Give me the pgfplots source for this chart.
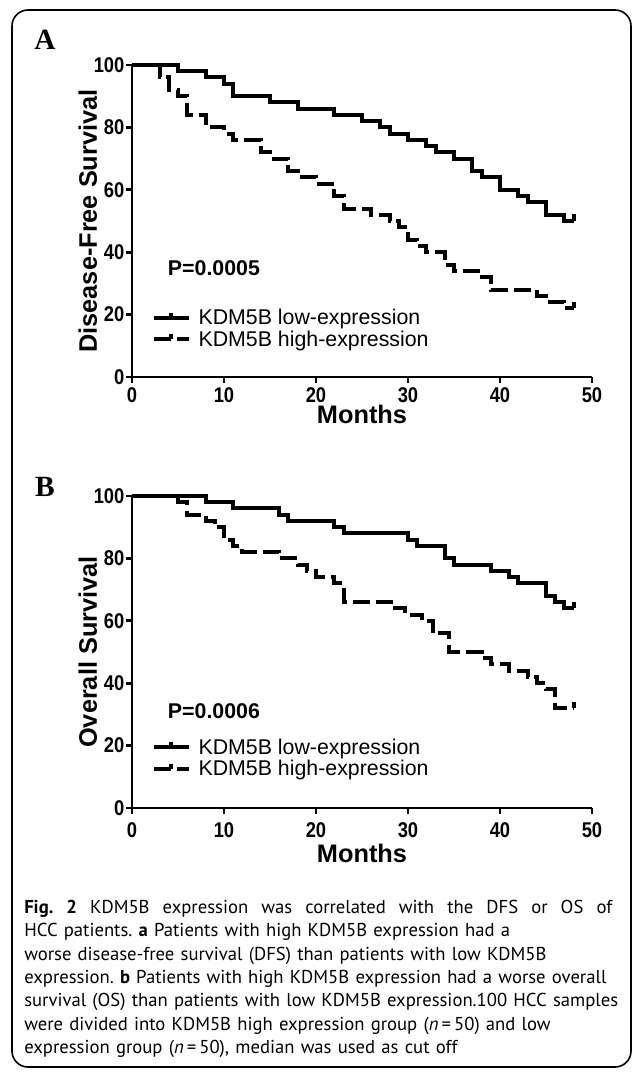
\documentclass[border=0pt]{standalone}
\usepackage{pgfplots}
\pgfplotsset{compat=1.18}
\usepackage{fontspec}
\setmainfont{Liberation Sans}
\newfontfamily\ticknarrow[FakeStretch=0.86]{Liberation Sans}
\newfontfamily\letterfont{Liberation Serif}
\newfontfamily\capfont{PT Sans}

% censor tick: short stroke pointing up from the curve
\pgfdeclareplotmark{cens}{%
  \pgfpathmoveto{\pgfpointorigin}%
  \pgfpathlineto{\pgfpoint{0pt}{\pgfplotmarksize}}%
  \pgfusepathqstroke}

\pgfplotsset{
  km/.style={
    scale only axis, width=345pt, height=234pt,
    xmin=0, xmax=50, ymin=0, ymax=100,
    xtick={0,10,...,50}, ytick={0,20,...,100},
    axis lines=left, axis line style={-, line width=2.2pt},
    tick align=outside, major tick length=4.5pt,
    tick style={line width=2.2pt, black},
    /pgf/number format/assume math mode=true,
    tick label style={font=\fontsize{16}{18}\selectfont\ticknarrow\bfseries, inner sep=1pt},
    xticklabel style={yshift=-2pt},
    every axis y label/.style={at={(axis description cs:-0.096,0.5)}, rotate=90,
      anchor=center, font=\fontsize{19}{22}\selectfont\bfseries},
    every axis x label/.style={at={(axis description cs:0.5,-0.12)}, anchor=center,
      font=\fontsize{19}{22}\selectfont\bfseries},
    xlabel={Months},
    clip=false,
    legend cell align=left,
    legend style={draw=none, fill=none, anchor=north west,
      font=\fontsize{16}{19}\selectfont, row sep=-1pt, column sep=4pt},
    legend image code/.code={
      \draw[#1] (0pt,0pt) -- (26pt,0pt);
      \draw[#1, solid] (13pt,0pt) -- (13pt,4pt);},
  },
  lo/.style={const plot, black, line width=3pt, mark=none},
  hi/.style={const plot, black, line width=3pt, mark=none, dash pattern=on 13pt off 4.5pt},
  cen/.style={only marks, mark=cens, mark size=5pt, black, line width=3pt, forget plot},
}

\begin{document}
\frenchspacing
\begin{tikzpicture}
\useasboundingbox (0,0) rectangle (474.75pt,-804.75pt);

% ---- panel A
\begin{axis}[km, at={(99pt,-282.75pt)}, anchor=south west,
  ylabel={Disease-Free Survival},
  legend style={at={(axis cs:1.7,23.5)}}]
\addplot[lo] coordinates {(0,100)(5,98)(8,96)(10,94)(11,90)(15,88)(18,86)(22,84)(25,82)(27,80)(28,78)(30,76)(32,74)(33,72)(35,70)(37,66)(38,64)(40,60)(42,58)(43,56)(45,52)(47,50)(48,50)};
\addplot[hi] coordinates {(0,100)(3,96)(4,92)(5,90)(6,84)(8,80)(10,78)(11,76)(14,72)(15,70)(17,66)(18,64)(20,62)(22,58)(23,54)(26,52)(28,50)(29,48)(30,44)(31,42)(32,40)(34,36)(35,34)(38,32)(39,28)(44,26)(45,24)(47,22)(48,22)};
\addplot[cen] coordinates {(48,50)(48,22)};
\legend{KDM5B low-expression, KDM5B high-expression}
\node[anchor=west, font=\fontsize{16}{19}\selectfont\bfseries] at (axis cs:3.4,35) {P=0.0005};
\end{axis}

% ---- panel B
\begin{axis}[km, at={(99pt,-606pt)}, anchor=south west,
  ylabel={Overall Survival},
  every axis x label/.append style={at={(axis description cs:0.5,-0.145)}},
  xticklabel style={yshift=-3pt},
  legend style={at={(axis cs:1.7,24)}}]
\addplot[lo] coordinates {(0,100)(8,98)(11,96)(16,94)(17,92)(22,90)(23,88)(30,86)(31,84)(34,80)(35,78)(39,76)(41,74)(42,72)(45,68)(46,66)(47,64)(48,64)};
\addplot[hi] coordinates {(0,100)(5,98)(6,94)(8,92)(9,90)(10,86)(11,84)(12,82)(16,80)(18,78)(19,76)(20,74)(22,72)(23,66)(28.6,64)(29.7,62)(31.5,60)(32.7,56)(34.5,50)(38,48)(39,46)(41,44)(43,42)(44,40)(45,38)(46,32)(48,32)};
\addplot[cen] coordinates {(48,64)(48,32)};
\legend{KDM5B low-expression, KDM5B high-expression}
\node[anchor=west, font=\fontsize{16}{19}\selectfont\bfseries] at (axis cs:3.4,31) {P=0.0006};
\end{axis}

\begin{scope}[x=0.75pt, y=-0.75pt]
\draw[line width=1.2pt, rounded corners=12pt] (12,10) rectangle (631,1067);
\node[font=\fontsize{22}{24}\selectfont\letterfont\bfseries] at (45,40) {A};
\node[font=\fontsize{22}{24}\selectfont\letterfont\bfseries] at (45,487) {B};
\node[anchor=north west, inner sep=0pt, text width=460pt, align=left,
  font=\fontsize{14}{17.5}\selectfont\capfont] at (24,900)
  {\hbox to 441pt{\spaceskip=0.25em plus 1fil\relax \textbf{Fig.\ 2} KDM5B expression was correlated with the DFS or OS of}\\
   HCC patients. \textbf{a} Patients with high KDM5B expression had a\\
   worse disease-free survival (DFS) than patients with low KDM5B\\
   expression. \textbf{b} Patients with high KDM5B expression had a worse overall\\
   survival (OS) than patients with low KDM5B expression.100 HCC samples\\
   were divided into KDM5B high expression group (\textit{n}\,=\,50) and low\\
   expression group (\textit{n}\,=\,50), median was used as cut off};
\end{scope}
\end{tikzpicture}
\end{document}
